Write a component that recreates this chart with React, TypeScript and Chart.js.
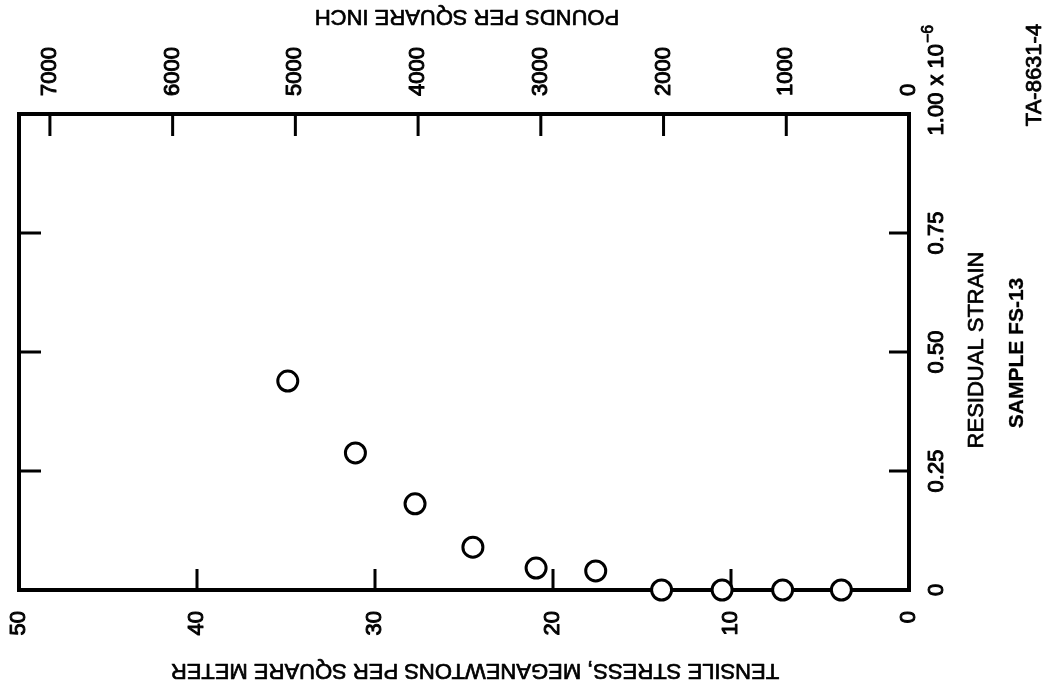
import React, { useEffect, useRef } from 'react';
import { Chart, registerables } from 'chart.js';

Chart.register(...registerables);

// Data
const stressMNm2 = [34.9, 31.1, 27.75, 24.5, 20.95, 17.6, 13.9, 10.5, 7.1, 3.8];
const residualStrain = [0.439, 0.288, 0.181, 0.09, 0.046, 0.04, 0, 0, 0, 0];

// Axes
const stressTicks = [0, 10, 20, 30, 40, 50];
const psiTicks = [0, 1000, 2000, 3000, 4000, 5000, 6000, 7000];
const strainTicks = [0, 0.25, 0.5, 0.75, 1.0];
const strainTickLabels = ['0', '0.25', '0.50', '0.75', '1.00'];
const PSI_PER_MNM2 = 145.038;

// Texts
const stressTitle = 'TENSILE STRESS, MEGANEWTONS PER SQUARE METER';
const psiTitle = 'POUNDS PER SQUARE INCH';
const strainTitle = 'RESIDUAL STRAIN';
const sampleTitle = 'SAMPLE FS-13';
const figureId = 'TA-8631-4';
const strainMultiplier = 'x 10';
const strainExponent = '\u22126';

const FONT = '"Liberation Sans", Arial, Helvetica, sans-serif';

function rotText(
  ctx: CanvasRenderingContext2D,
  text: string,
  x: number,
  y: number,
  angle: number,
  align: CanvasTextAlign,
  baseline: CanvasTextBaseline,
  weight = 0.7
) {
  ctx.save();
  ctx.translate(x, y);
  ctx.rotate(angle);
  ctx.textAlign = align;
  ctx.textBaseline = baseline;
  ctx.fillText(text, 0, 0);
  if (weight > 0) {
    ctx.lineWidth = weight;
    ctx.strokeStyle = '#000';
    ctx.lineJoin = 'round';
    ctx.strokeText(text, 0, 0);
  }
  ctx.restore();
}

const figurePlugin = {
  id: 'figureDecor',
  beforeDatasetsDraw(chart: any) {
    const { ctx, scales } = chart;
    const x = scales.x;
    const xp = scales.xPsi;
    const y = scales.y;
    const L = x.getPixelForValue(50);
    const R = x.getPixelForValue(0);
    const T = y.getPixelForValue(1);
    const B = y.getPixelForValue(0);
    ctx.save();
    ctx.strokeStyle = '#000';
    ctx.lineWidth = 4;
    ctx.lineJoin = 'miter';
    ctx.strokeRect(L, T, R - L, B - T);
    ctx.lineWidth = 3;
    ctx.beginPath();
    stressTicks.forEach((v) => {
      if (v === 0 || v === 50) return;
      const px = x.getPixelForValue(v);
      ctx.moveTo(px, B);
      ctx.lineTo(px, B - 21);
    });
    psiTicks.forEach((v) => {
      if (v === 0) return;
      const px = xp.getPixelForValue(v);
      ctx.moveTo(px, T);
      ctx.lineTo(px, T + 22);
    });
    strainTicks.forEach((v) => {
      if (v === 0 || v === 1) return;
      const py = y.getPixelForValue(v);
      ctx.moveTo(L, py);
      ctx.lineTo(L + 22, py);
      ctx.moveTo(R, py);
      ctx.lineTo(R - 20, py);
    });
    ctx.stroke();
    ctx.restore();
  },
  afterDraw(chart: any) {
    const { ctx, scales } = chart;
    const x = scales.x;
    const xp = scales.xPsi;
    const y = scales.y;
    const R = x.getPixelForValue(0);
    const T = y.getPixelForValue(1);
    const B = y.getPixelForValue(0);
    const up = -Math.PI / 2;
    ctx.save();
    ctx.fillStyle = '#000';
    ctx.font = `22px ${FONT}`;
    // stress tick labels (bottom), reading upward, end near axis
    stressTicks.forEach((v) => {
      rotText(ctx, String(v), x.getPixelForValue(v), B + 21, up, 'right', 'middle', 1);
    });
    // psi tick labels (top), reading upward, start near axis
    psiTicks.forEach((v) => {
      rotText(ctx, String(v), xp.getPixelForValue(v), T - 18, up, 'left', 'middle', 1);
    });
    // strain tick labels (right)
    const lx = R + 28;
    strainTicks.forEach((v, i) => {
      rotText(ctx, strainTickLabels[i], lx, y.getPixelForValue(v), up, 'center', 'middle', 1);
    });
    // multiplier after 1.00
    const topPx = y.getPixelForValue(1);
    const w100 = ctx.measureText(strainTickLabels[4]).width;
    const startY = topPx - w100 / 2 - 7;
    rotText(ctx, strainMultiplier, lx, startY, up, 'left', 'middle', 1);
    const wMul = ctx.measureText(strainMultiplier).width;
    ctx.font = `16px ${FONT}`;
    rotText(ctx, strainExponent, lx - 8, startY - wMul - 1, up, 'left', 'middle', 0.8);
    // titles
    ctx.font = `22px ${FONT}`;
    rotText(ctx, psiTitle, 467, 16, Math.PI, 'center', 'middle', 0.7);
    rotText(ctx, stressTitle, 475, 670, Math.PI, 'center', 'middle', 0.7);
    rotText(ctx, strainTitle, 977, 350, up, 'center', 'middle', 0.7);
    ctx.font = `bold 21px ${FONT}`;
    rotText(ctx, sampleTitle, 1017, 353, up, 'center', 'middle', 0.3);
    ctx.font = `22px ${FONT}`;
    rotText(ctx, figureId, 1035, 75, up, 'center', 'middle', 0.8);
    ctx.restore();
  },
};

export default function App() {
  const canvasRef = useRef<HTMLCanvasElement | null>(null);

  useEffect(() => {
    if (!canvasRef.current) return;
    const points = stressMNm2.map((s, i) => ({ x: s, y: residualStrain[i] }));
    const chart = new Chart(canvasRef.current, {
      type: 'scatter',
      data: {
        datasets: [
          {
            label: 'Sample FS-13',
            data: points,
            pointRadius: 10,
            pointHoverRadius: 10,
            pointBorderWidth: 3,
            pointBorderColor: '#000',
            pointBackgroundColor: '#fff',
            showLine: false,
            clip: false as any,
          },
        ],
      },
      options: {
        responsive: false,
        animation: false,
        devicePixelRatio: 1,
        layout: { padding: { left: 19, right: 138, top: 114, bottom: 97 } },
        plugins: {
          legend: { display: false },
          tooltip: { enabled: false },
        },
        scales: {
          x: { type: 'linear', position: 'bottom', min: 0, max: 50, reverse: true, display: false },
          xPsi: {
            type: 'linear',
            position: 'top',
            min: 0,
            max: 50 * PSI_PER_MNM2,
            reverse: true,
            display: false,
          },
          y: { type: 'linear', position: 'right', min: 0, max: 1, display: false },
        },
      },
      plugins: [figurePlugin],
    });
    return () => chart.destroy();
  }, []);

  return (
    <div style={{ position: 'absolute', left: 0, top: 0, width: 1047, height: 687, background: '#fff' }}>
      <canvas ref={canvasRef} width={1047} height={687} style={{ display: 'block' }} />
    </div>
  );
}
